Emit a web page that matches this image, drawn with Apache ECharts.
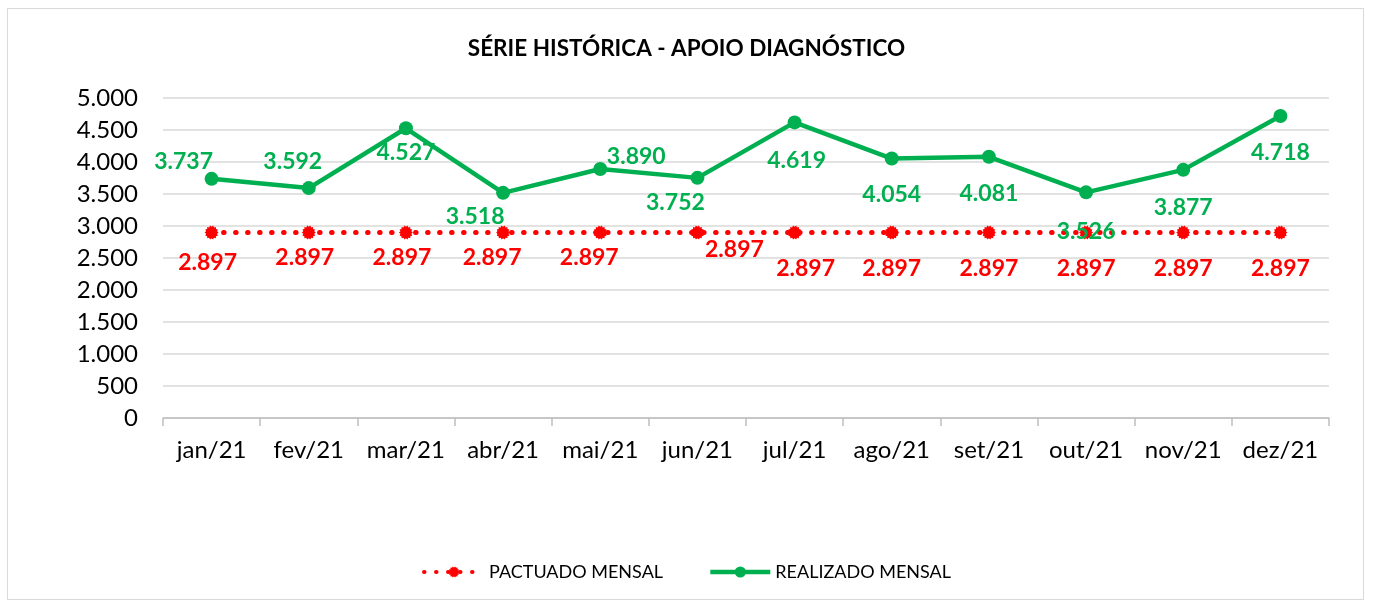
<!DOCTYPE html>
<html>
<head>
<meta charset="utf-8">
<script src="https://cdn.jsdelivr.net/npm/echarts@6/dist/echarts.min.js"></script>
<style>
  html, body { margin: 0; padding: 0; background: #fff; }
  #box { position: absolute; left: 7px; top: 8px; width: 1357px; height: 592px; border: 1px solid #d9d9d9; box-sizing: border-box; }
  #chart { position: absolute; left: 0; top: 0; width: 1373px; height: 600px; }
</style>
</head>
<body>
<div id="box"></div>
<div id="chart"></div>
<script>
var months = ['jan/21', 'fev/21', 'mar/21', 'abr/21', 'mai/21', 'jun/21', 'jul/21', 'ago/21', 'set/21', 'out/21', 'nov/21', 'dez/21'];
var pactuado = [2897, 2897, 2897, 2897, 2897, 2897, 2897, 2897, 2897, 2897, 2897, 2897];
var realizado = [3737, 3592, 4527, 3518, 3890, 3752, 4619, 4054, 4081, 3526, 3877, 4718];

// where excel dropped each data label, relative to its point
var realizadoOffsets = [[-28, -17], [-16, -27], [0, 24], [-28, 24], [36, -12], [-22, 25], [2, 38], [0, 36], [0, 37], [0, 39], [0, 38], [0, 37]];
var pactuadoOffsets = [[-4, 30], [-4, 25], [-4, 25], [-11, 25], [-11, 25], [37, 17], [11, 36], [0, 36], [0, 36], [0, 36], [0, 36], [0, 36]];

var fmt = function (v) {
    return String(v).replace(/\B(?=(\d{3})+(?!\d))/g, '.');
};

var withLabels = function (values, offsets) {
    return values.map(function (v, i) {
        return { value: v, label: { offset: offsets[i] } };
    });
};

// spiky "burst" marker like the excel one
var burst = (function () {
    var n = 14, pts = [];
    for (var i = 0; i < n * 2; i++) {
        var r = i % 2 ? 40 : 50;
        var a = Math.PI * i / n;
        pts.push((50 + r * Math.cos(a)).toFixed(1) + ' ' + (50 + r * Math.sin(a)).toFixed(1));
    }
    return 'path://M' + pts.join(' L') + ' Z';
})();

var myChart = echarts.init(document.getElementById('chart'));
myChart.setOption({
    animation: false,
    textStyle: { fontFamily: 'Lato, "Open Sans", sans-serif' },
    title: {
        text: 'SÉRIE HISTÓRICA - APOIO DIAGNÓSTICO',
        left: 'center',
        top: 32,
        textStyle: { fontSize: 22.5, fontWeight: 'bold', color: '#000', fontFamily: 'Lato, sans-serif' }
    },
    legend: {
        bottom: 14,
        left: 'center',
        itemWidth: 60,
        itemHeight: 14,
        itemGap: 45,
        textStyle: { fontSize: 18, color: '#000' },
        data: [
            { name: 'PACTUADO MENSAL', lineStyle: { width: 4 } },
            { name: 'REALIZADO MENSAL', lineStyle: { width: 4.5 } }
        ]
    },
    grid: { left: 163, right: 44, top: 98, bottom: 182, containLabel: false },
    xAxis: {
        type: 'category',
        data: months,
        boundaryGap: true,
        axisLine: { lineStyle: { color: '#bfbfbf', width: 1.5 } },
        axisTick: { show: true, interval: 0, length: 8, lineStyle: { color: '#bfbfbf', width: 1.5 } },
        axisLabel: { interval: 0, fontSize: 24, color: '#000', margin: 20 }
    },
    yAxis: {
        type: 'value',
        min: 0,
        max: 5000,
        interval: 500,
        axisLine: { show: false },
        axisTick: { show: false },
        splitLine: { lineStyle: { color: '#d9d9d9', width: 1.5 } },
        axisLabel: { fontSize: 24, color: '#000', margin: 25, formatter: fmt }
    },
    series: [
        {
            name: 'PACTUADO MENSAL',
            type: 'line',
            data: withLabels(pactuado, pactuadoOffsets),
            symbol: burst,
            symbolSize: 14,
            itemStyle: { color: '#ff0000' },
            lineStyle: { color: '#ff0000', width: 5, type: [0.5, 11.5], cap: 'round' },
            label: {
                show: true,
                position: 'inside',
                formatter: function (p) { return fmt(p.value); },
                fontSize: 23,
                fontWeight: 'bold',
                color: '#ff0000'
            },
            z: 2
        },
        {
            name: 'REALIZADO MENSAL',
            type: 'line',
            data: withLabels(realizado, realizadoOffsets),
            symbol: 'circle',
            symbolSize: 14,
            itemStyle: { color: '#00b050' },
            lineStyle: { color: '#00b050', width: 4.5 },
            label: {
                show: true,
                position: 'inside',
                formatter: function (p) { return fmt(p.value); },
                fontSize: 23,
                fontWeight: 'bold',
                color: '#00b050'
            },
            z: 3
        }
    ]
});
</script>
</body>
</html>
